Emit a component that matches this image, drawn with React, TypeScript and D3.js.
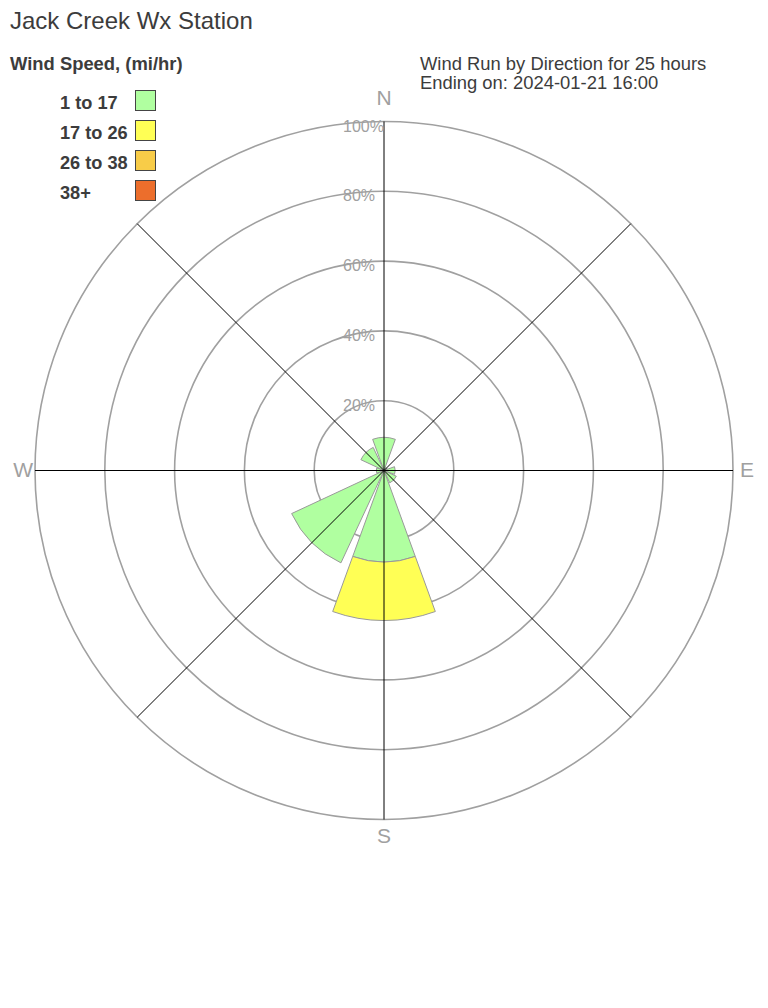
import React from "react";
import * as d3 from "d3";

const directions = ["N", "NE", "E", "SE", "S", "SW", "W", "NW"];
const directionAngles = [0, 45, 90, 135, 180, 225, 270, 315];
const speedBins = ["1 to 17", "17 to 26", "26 to 38", "38+"];
const binColors = ["#b0ffa0", "#ffff55", "#f8cc48", "#ec6e2c"];
const bin1 = [9.5, 1.0, 3.2, 3.9, 26.2, 29.2, 2.2, 7.3];
const bin2 = [0, 0, 0, 0, 16.8, 0, 0, 0];
const bin3 = [0, 0, 0, 0, 0, 0, 0, 0];
const bin4 = [0, 0, 0, 0, 0, 0, 0, 0];
const ringTicks = [20, 40, 60, 80, 100];
const compassLabels = ["N", "E", "S", "W"];

const W = 768;
const H = 1008;
const cx = 384;
const cy = 470.5;
const R = 349;
const FONT = "'Liberation Sans', Arial, sans-serif";
const GRAY = "#a0a0a0";
const TEXT = "#3c3c3c";

export default function App() {
  const r = d3.scaleLinear().domain([0, 100]).range([0, R]);
  const bins = [bin1, bin2, bin3, bin4];
  const halfWidth = (20 * Math.PI) / 180;
  const arc = d3.arc<any>();

  const segments: { d: string; color: string }[] = [];
  directions.forEach((dir, i) => {
    let acc = 0;
    bins.forEach((b, k) => {
      const v = b[i];
      if (v > 0) {
        const a = (directionAngles[i] * Math.PI) / 180;
        const d = arc({
          innerRadius: r(acc),
          outerRadius: r(acc + v),
          startAngle: a - halfWidth,
          endAngle: a + halfWidth,
        }) as string;
        segments.push({ d, color: binColors[k] });
        acc += v;
      }
    });
  });

  return (
    <svg
      width={W}
      height={H}
      style={{ position: "absolute", left: 0, top: 0, background: "#fff" }}
      fontFamily={FONT}
    >
      <rect width={W} height={H} fill="#fff" />
      <text x={10} y={29} fontSize={24} fill={TEXT}>
        Jack Creek Wx Station
      </text>
      <text x={10} y={70} fontSize={18.4} fontWeight="bold" fill={TEXT}>
        Wind Speed, (mi/hr)
      </text>
      {speedBins.map((s, i) => (
        <g key={s}>
          <text x={60} y={109 + i * 30} fontSize={18.2} fontWeight="bold" fill={TEXT}>
            {s}
          </text>
          <rect
            x={135.5}
            y={90.5 + i * 30}
            width={20}
            height={20}
            fill={binColors[i]}
            stroke="#444"
            strokeWidth={1}
          />
        </g>
      ))}
      <text x={420} y={70} fontSize={18.4} fill={TEXT}>
        Wind Run by Direction for 25 hours
      </text>
      <text x={420} y={89} fontSize={18.4} fill={TEXT}>
        Ending on: 2024-01-21 16:00
      </text>

      <g transform={`translate(${cx},${cy})`}>
        {ringTicks.map((t) => (
          <circle key={t} r={r(t)} fill="none" stroke={GRAY} strokeWidth={1.6} />
        ))}
        {segments.map((s, i) => (
          <path key={i} d={s.d} fill={s.color} stroke="#999" strokeWidth={1} />
        ))}
        {directionAngles.map((a) => {
          const rad = (a * Math.PI) / 180;
          return (
            <line
              key={a}
              x1={0}
              y1={0}
              x2={R * Math.sin(rad)}
              y2={-R * Math.cos(rad)}
              stroke="#000"
              strokeWidth={1}
            />
          );
        })}
        {ringTicks.map((t) => (
          <text key={t} x={-41} y={-r(t) + 10} fontSize={16} fill={GRAY}>
            {t}%
          </text>
        ))}
      </g>

      <text x={cx} y={105} fontSize={21} fill={GRAY} textAnchor="middle">
        {compassLabels[0]}
      </text>
      <text x={740} y={477} fontSize={21} fill={GRAY}>
        {compassLabels[1]}
      </text>
      <text x={cx} y={843} fontSize={21} fill={GRAY} textAnchor="middle">
        {compassLabels[2]}
      </text>
      <text x={33} y={477} fontSize={21} fill={GRAY} textAnchor="end">
        {compassLabels[3]}
      </text>
    </svg>
  );
}
